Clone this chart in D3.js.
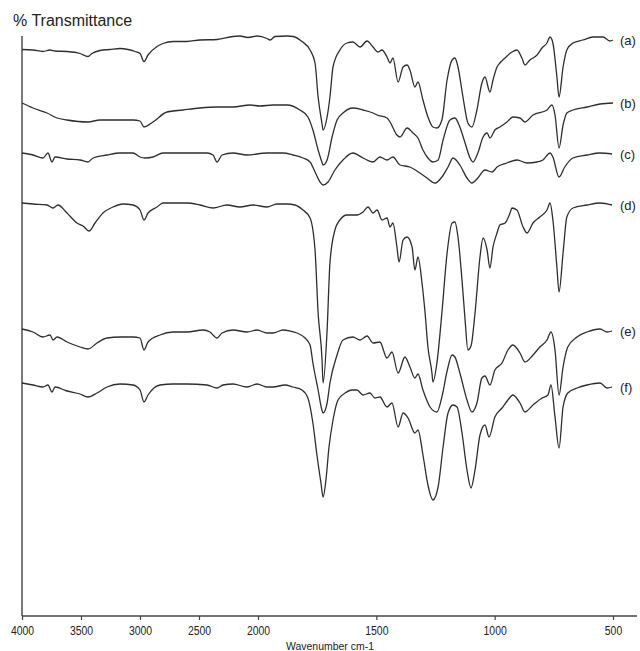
<!DOCTYPE html>
<html>
<head>
<meta charset="utf-8">
<script src="https://cdnjs.cloudflare.com/ajax/libs/d3/7.8.5/d3.min.js"></script>
<style>
  body { margin: 0; background: #fff; }
  text { font-family: "Liberation Sans", Arial, sans-serif; fill: #222; }
</style>
</head>
<body>
<div class="main"></div>
<script>
// Wavenumber ticks (cm-1)
let tick_values = [4000, 3500, 3000, 2500, 2000, 1500, 1000, 500];

// Spectrum names, top to bottom
let labels = ["(a)", "(b)", "(c)", "(d)", "(e)", "(f)"];

// Spectra as [wavenumber, transmittance] pairs, offset already applied
let spec_a = [[4000,113.3],[3907,113.2],[3822,112.9],[3763,113.2],[3720,113.0],[3619,112.9],[3508,112.5],[3441,111.9],[3407,112.5],[3339,113.1],[3254,113.3],[3169,113.5],[3102,113.3],[3042,112.9],[3000,112.5],[2966,110.9],[2932,112.2],[2856,113.9],[2805,114.5],[2720,114.9],[2602,114.9],[2492,115.2],[2347,115.3],[2212,115.9],[2153,116],[2085,115.7],[2008,116],[1962,115.5],[1949,115.2],[1928,115.9],[1877,116],[1852,115.9],[1814,114.9],[1780,113.2],[1759,110.6],[1746,103.8],[1730,98.6],[1725,97.2],[1708,99.8],[1696,103.8],[1683,109.8],[1654,113.2],[1624,114.6],[1599,114.8],[1569,113.8],[1539,115.0],[1514,113.8],[1493,112.8],[1476,113.2],[1455,111.8],[1442,110.6],[1430,111.6],[1408,106.8],[1387,109.8],[1370,110.2],[1358,109.2],[1337,105.8],[1324,106.8],[1303,103.2],[1282,99.8],[1261,97.8],[1244,97.6],[1223,99.2],[1201,107.2],[1180,111.2],[1168,111.6],[1155,109.8],[1134,103.8],[1113,98.6],[1096,97.8],[1075,101.2],[1054,106.6],[1041,107.8],[1020,104.8],[1007,107.2],[990,109.8],[978,110.6],[956,111.6],[927,112.8],[906,113.2],[885,111.6],[872,110.2],[851,111.2],[821,112.2],[800,113.6],[779,114.6],[766,115.8],[754,114.6],[737,107.8],[728,103.8],[711,109.8],[695,113.2],[669,114.6],[627,115.2],[585,115.8],[542,115.8],[513,115.0],[500,115.2]];
let spec_b = [[4000,102.6],[3907,101.6],[3788,100.6],[3703,99.6],[3619,99.2],[3441,98.8],[3339,99.2],[3059,99.2],[3000,99.0],[2966,97.8],[2890,98.8],[2771,100.8],[2636,101.2],[2492,101.6],[2347,101.8],[2212,101.8],[2068,102.2],[1992,102.0],[1937,102.2],[1877,102.2],[1823,101.2],[1789,99.8],[1768,97.2],[1746,93.2],[1730,90.8],[1725,90.2],[1708,91.2],[1687,95.8],[1666,99.2],[1641,100.6],[1599,101.6],[1556,101.2],[1514,100.6],[1497,100.2],[1455,99.6],[1442,98.8],[1413,96.2],[1400,95.8],[1370,97.6],[1345,96.6],[1324,95.6],[1303,93.2],[1282,91.6],[1261,90.8],[1239,91.2],[1218,95.2],[1189,99.2],[1168,99.6],[1147,97.8],[1125,94.6],[1104,91.6],[1092,90.8],[1071,92.6],[1049,95.8],[1032,96.6],[1020,95.6],[999,97.2],[978,97.8],[948,98.8],[923,99.8],[893,99.6],[872,98.8],[838,100.2],[779,101.2],[758,102.2],[745,100.2],[728,93.6],[711,98.2],[695,100.6],[669,101.2],[610,101.8],[555,102.4],[500,102.6]];
let spec_c = [[4000,92.6],[3907,92.2],[3822,91.6],[3780,92.6],[3746,90.8],[3720,91.8],[3619,91.4],[3508,91.2],[3441,90.8],[3398,91.6],[3280,92.2],[3169,92.6],[3059,92.6],[3000,91.8],[2958,91.6],[2890,91.8],[2805,92.6],[2602,92.6],[2432,92.6],[2381,92.2],[2347,90.8],[2305,92.2],[2212,92.6],[2093,92.2],[1962,92.6],[1894,92.6],[1852,92.2],[1810,91.6],[1780,90.8],[1759,88.8],[1738,86.8],[1725,86.2],[1704,86.8],[1675,89.2],[1641,91.2],[1599,92.6],[1556,91.6],[1514,90.8],[1485,91.8],[1455,91.2],[1430,91.8],[1400,90.2],[1358,89.8],[1316,88.6],[1286,87.6],[1252,86.6],[1223,87.8],[1197,89.8],[1176,91.6],[1147,90.2],[1117,87.6],[1096,86.6],[1071,87.6],[1041,89.2],[1011,88.8],[990,89.8],[948,90.6],[906,91.2],[863,90.6],[821,90.8],[796,91.2],[766,92.6],[754,91.8],[728,87.8],[704,89.8],[669,91.6],[610,92.2],[555,92.6],[504,92.4]];
let spec_d = [[4000,82.6],[3907,82.4],[3788,82.2],[3737,81.6],[3695,82.2],[3619,80.6],[3534,78.6],[3483,78.0],[3432,77.0],[3381,78.6],[3314,80.6],[3229,81.8],[3144,82.4],[3059,82.2],[3000,81.2],[2966,79.2],[2932,80.6],[2856,81.8],[2805,82.6],[2602,82.6],[2492,82.2],[2381,81.6],[2263,82.2],[2153,81.8],[2042,82.2],[1962,81.8],[1920,82.4],[1877,82.4],[1844,82.2],[1810,81.2],[1780,79.6],[1759,73.2],[1746,60.6],[1730,51.8],[1725,46.6],[1708,57.2],[1696,70.6],[1675,77.2],[1654,79.2],[1624,80.2],[1582,80.2],[1556,80.8],[1535,81.8],[1514,80.6],[1497,81.2],[1476,79.2],[1455,79.6],[1442,77.8],[1430,78.6],[1413,73.8],[1404,70.8],[1387,75.2],[1370,75.8],[1349,73.8],[1337,69.2],[1324,71.8],[1307,66.6],[1294,60.6],[1282,53.8],[1265,48.6],[1261,46.8],[1244,50.6],[1223,60.6],[1201,72.6],[1180,78.6],[1168,78.8],[1155,75.8],[1138,67.2],[1125,59.2],[1113,53.2],[1100,54.0],[1083,60.6],[1062,71.8],[1049,75.6],[1032,73.2],[1020,69.6],[1007,73.8],[990,76.6],[978,78.2],[956,78.6],[935,80.6],[927,81.6],[906,81.2],[880,77.8],[863,76.6],[838,78.6],[809,79.8],[779,81.2],[766,82.6],[754,79.2],[737,69.8],[728,64.8],[711,72.6],[695,79.8],[669,81.6],[610,82.2],[555,82.6],[504,82.2]];
let spec_e = [[4000,57.4],[3907,56.8],[3822,55.8],[3763,56.2],[3737,55.2],[3703,55.8],[3619,54.8],[3508,53.8],[3441,53.4],[3364,54.6],[3280,55.6],[3169,55.8],[3059,55.8],[3000,55.6],[2966,53.2],[2932,54.8],[2831,56.2],[2720,56.8],[2602,56.8],[2466,57.2],[2407,56.8],[2347,55.6],[2305,56.6],[2212,57.2],[2093,56.8],[2008,57.2],[1962,56.6],[1937,56.6],[1894,57.2],[1865,57.0],[1835,56.6],[1801,55.6],[1780,54.2],[1768,50.6],[1746,45.2],[1730,41.2],[1725,40.6],[1708,42.6],[1696,46.6],[1666,52.2],[1641,55.2],[1599,55.8],[1569,55.2],[1539,56.0],[1514,54.6],[1485,54.8],[1455,51.6],[1434,52.8],[1408,48.6],[1379,51.8],[1358,49.8],[1337,47.6],[1324,48.4],[1303,45.2],[1273,41.8],[1244,40.8],[1223,43.8],[1201,49.0],[1180,52.2],[1168,51.8],[1147,48.6],[1117,43.2],[1096,40.8],[1075,42.6],[1054,47.6],[1041,48.0],[1020,46.2],[999,49.2],[969,50.6],[944,53.2],[923,54.2],[893,52.6],[872,50.8],[838,52.2],[809,53.8],[779,55.2],[762,56.8],[745,53.2],[728,44.2],[711,49.8],[691,53.8],[652,55.8],[610,56.8],[555,57.4],[525,56.8],[504,57.0]];
let spec_f = [[4000,46.6],[3907,46.2],[3822,45.8],[3780,46.2],[3746,44.8],[3720,45.8],[3619,45.0],[3508,44.4],[3441,43.8],[3364,44.6],[3280,45.8],[3169,46.4],[3059,46.2],[3000,45.2],[2966,42.8],[2932,44.2],[2831,46.2],[2720,46.4],[2602,46.4],[2432,46.2],[2347,45.6],[2297,46.2],[2212,46.4],[2093,45.8],[2008,46.4],[1962,45.8],[1937,45.8],[1886,46.2],[1852,45.8],[1814,45.2],[1789,43.6],[1768,38.6],[1751,32.2],[1734,26.6],[1725,23.8],[1713,27.2],[1700,33.8],[1683,39.2],[1662,43.2],[1632,44.6],[1603,45.2],[1582,45.2],[1556,44.2],[1527,44.6],[1506,43.6],[1485,43.8],[1455,41.8],[1434,42.6],[1408,37.8],[1387,40.6],[1366,39.6],[1337,36.6],[1324,37.2],[1303,32.2],[1282,26.2],[1261,23.2],[1239,25.8],[1218,33.8],[1197,40.6],[1176,42.2],[1159,41.8],[1138,36.6],[1117,29.2],[1100,25.6],[1083,29.2],[1062,36.2],[1041,38.2],[1024,35.8],[999,39.8],[969,41.6],[944,43.2],[923,44.2],[893,42.6],[872,40.8],[838,42.2],[800,43.6],[775,44.2],[762,46.2],[745,39.8],[728,33.6],[711,41.8],[691,44.6],[652,45.6],[610,46.2],[555,46.6],[525,45.6],[504,45.8]];

let spectra = [spec_a, spec_b, spec_c, spec_d, spec_e, spec_f];

let width = 640,
    height = 651;
let svg = d3.select("div.main").append("svg")
    .attr("width", width)
    .attr("height", height);

// The wavenumber axis changes scale at 2000 cm-1
let x = d3.scaleLinear().domain([4000, 2000, 500]).range([22, 258, 613]);
let y = d3.scaleLinear().domain([0, 116]).range([616, 36]);

let ink = "#2e2e2e";

// Axes: plain lines, no y ticks
svg.append("line")
    .attr("x1", x(4000)).attr("x2", x(4000))
    .attr("y1", y(116)).attr("y2", y(0))
    .attr("stroke", "#444").attr("stroke-width", 1.4);
svg.append("line")
    .attr("x1", x(4000)).attr("x2", 637)
    .attr("y1", y(0)).attr("y2", y(0))
    .attr("stroke", "#444").attr("stroke-width", 1.4);

let xAxis = d3.axisBottom(x)
    .tickValues(tick_values)
    .tickSizeInner(4)
    .tickSizeOuter(0)
    .tickFormat(d3.format("d"));

let gx = svg.append("g")
    .attr("transform", "translate(0," + y(0) + ")")
    .call(xAxis);
gx.select(".domain").remove();
gx.selectAll(".tick line").attr("stroke", "#444").attr("stroke-width", 1.2);
gx.selectAll(".tick text")
    .attr("y", 10)
    .attr("font-size", 12)
    .attr("textLength", d => String(d).length * 5.8)
    .attr("lengthAdjust", "spacingAndGlyphs")
    .style("font-family", "'Liberation Sans', Arial, sans-serif")
    .attr("fill", "#222");

// Titles
svg.append("text")
    .attr("x", 13)
    .attr("y", 26)
    .attr("font-size", 16)
    .text("% Transmittance");

svg.append("text")
    .attr("x", 330)
    .attr("y", 650)
    .attr("text-anchor", "middle")
    .attr("font-size", 10)
    .attr("textLength", 88)
    .attr("lengthAdjust", "spacingAndGlyphs")
    .text("Wavenumber cm-1");

// The spectra
let line = d3.line()
    .x(d => x(d[0]))
    .y(d => y(d[1]))
    .curve(d3.curveMonotoneX);

spectra.forEach(function(s, i) {
    svg.append("path")
        .datum(s)
        .attr("d", line)
        .attr("fill", "none")
        .attr("stroke", ink)
        .attr("stroke-width", 1.3)
        .attr("stroke-linejoin", "round");

    // Name at the right end of each trace
    let last = s[s.length - 1];
    svg.append("text")
        .attr("x", 620)
        .attr("y", y(last[1]))
        .attr("dy", "0.35em")
        .attr("font-size", 13)
        .text(labels[i]);
});
</script>
</body>
</html>
